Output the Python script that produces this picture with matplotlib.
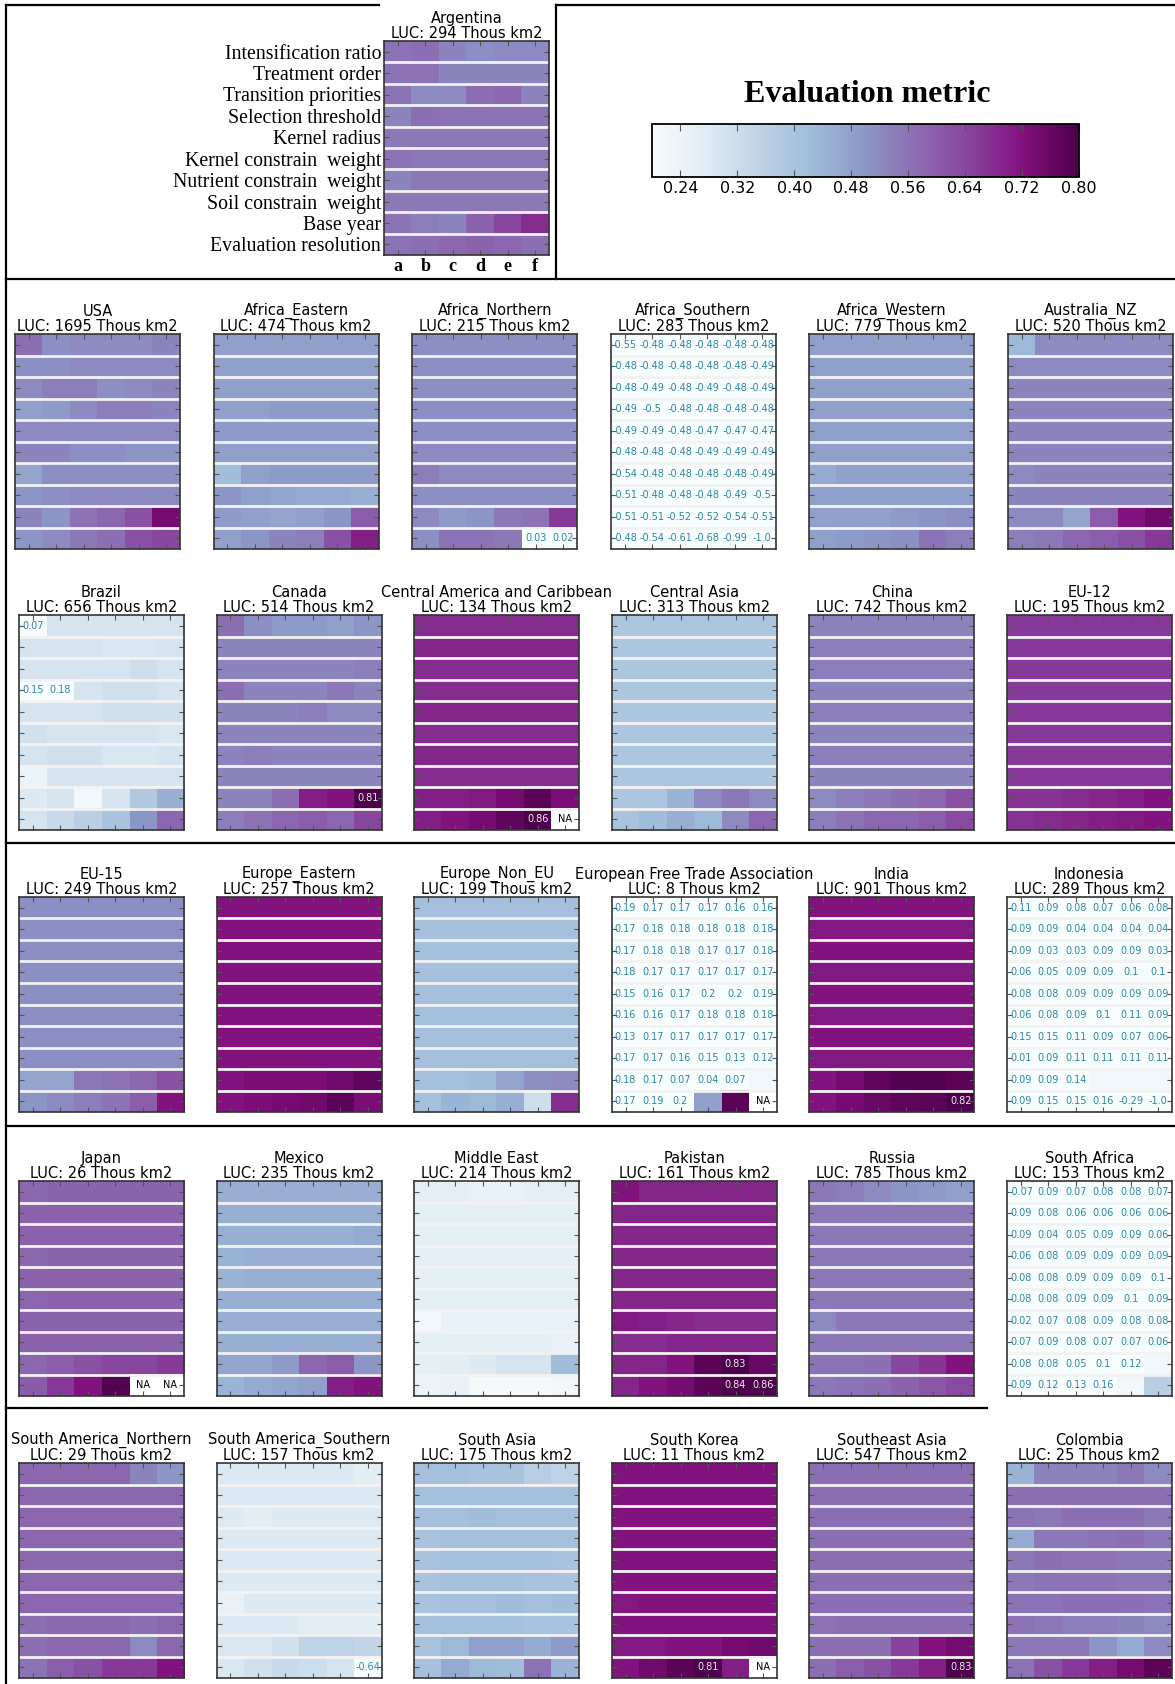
import numpy as np
import matplotlib
matplotlib.use("Agg")
import matplotlib.pyplot as plt
from matplotlib.lines import Line2D

NA = np.nan

row_labels = ["Intensification ratio", "Treatment order", "Transition priorities",
              "Selection threshold", "Kernel radius", "Kernel constrain  weight",
              "Nutrient constrain  weight", "Soil constrain  weight", "Base year",
              "Evaluation resolution"]
col_labels = ["a", "b", "c", "d", "e", "f"]
cbar_ticks = [0.24, 0.32, 0.40, 0.48, 0.56, 0.64, 0.72, 0.80]

# values, rows top to bottom, columns a..f
argentina = [[0.56, 0.57, 0.53, 0.51, 0.52, 0.52], [0.56, 0.56, 0.53, 0.53, 0.53, 0.53],
             [0.56, 0.52, 0.52, 0.57, 0.58, 0.53], [0.53, 0.57, 0.56, 0.56, 0.56, 0.56],
             [0.55, 0.55, 0.55, 0.55, 0.55, 0.55], [0.56, 0.55, 0.55, 0.55, 0.55, 0.55],
             [0.53, 0.55, 0.55, 0.55, 0.55, 0.55], [0.55, 0.55, 0.55, 0.55, 0.55, 0.55],
             [0.56, 0.54, 0.53, 0.59, 0.64, 0.68], [0.56, 0.57, 0.58, 0.59, 0.58, 0.57]]
usa = [[0.57, 0.51, 0.52, 0.52, 0.52, 0.53], [0.51, 0.51, 0.52, 0.52, 0.52, 0.52],
       [0.52, 0.54, 0.54, 0.51, 0.52, 0.53], [0.48, 0.49, 0.52, 0.54, 0.54, 0.53],
       [0.52, 0.52, 0.52, 0.52, 0.52, 0.52], [0.53, 0.53, 0.51, 0.51, 0.50, 0.50],
       [0.47, 0.51, 0.51, 0.51, 0.51, 0.51], [0.50, 0.51, 0.52, 0.52, 0.52, 0.52],
       [0.53, 0.50, 0.56, 0.58, 0.62, 0.74], [0.50, 0.52, 0.55, 0.57, 0.62, 0.64]]
africa_eastern = [[0.48, 0.48, 0.48, 0.48, 0.48, 0.48], [0.48, 0.48, 0.48, 0.48, 0.48, 0.48],
                  [0.48, 0.48, 0.48, 0.48, 0.48, 0.48], [0.48, 0.48, 0.49, 0.49, 0.49, 0.49],
                  [0.49, 0.49, 0.49, 0.49, 0.49, 0.49], [0.48, 0.48, 0.48, 0.48, 0.48, 0.48],
                  [0.42, 0.48, 0.49, 0.49, 0.49, 0.49], [0.50, 0.48, 0.47, 0.46, 0.46, 0.45],
                  [0.49, 0.48, 0.47, 0.48, 0.50, 0.60], [0.48, 0.50, 0.53, 0.54, 0.62, 0.70]]
africa_northern = [[0.51, 0.51, 0.51, 0.51, 0.51, 0.51], [0.51, 0.51, 0.51, 0.51, 0.51, 0.51],
                   [0.51, 0.51, 0.51, 0.51, 0.51, 0.51], [0.51, 0.51, 0.51, 0.51, 0.51, 0.51],
                   [0.51, 0.51, 0.51, 0.51, 0.51, 0.51], [0.52, 0.52, 0.52, 0.52, 0.52, 0.52],
                   [0.54, 0.52, 0.52, 0.52, 0.52, 0.52], [0.51, 0.51, 0.51, 0.51, 0.51, 0.51],
                   [0.52, 0.49, 0.50, 0.55, 0.56, 0.66], [0.51, 0.56, 0.56, 0.55, 0.03, 0.02]]
africa_southern = [[-0.55, -0.48, -0.48, -0.48, -0.48, -0.48], [-0.48, -0.48, -0.48, -0.48, -0.48, -0.49],
                   [-0.48, -0.49, -0.48, -0.49, -0.48, -0.49], [-0.49, -0.5, -0.48, -0.48, -0.48, -0.48],
                   [-0.49, -0.49, -0.48, -0.47, -0.47, -0.47], [-0.48, -0.48, -0.48, -0.49, -0.49, -0.49],
                   [-0.54, -0.48, -0.48, -0.48, -0.48, -0.49], [-0.51, -0.48, -0.48, -0.48, -0.49, -0.5],
                   [-0.51, -0.51, -0.52, -0.52, -0.54, -0.51], [-0.48, -0.54, -0.61, -0.68, -0.99, -1.0]]
africa_western = [[0.48, 0.48, 0.48, 0.48, 0.48, 0.48], [0.48, 0.48, 0.48, 0.48, 0.48, 0.48],
                  [0.48, 0.48, 0.48, 0.48, 0.48, 0.48], [0.48, 0.48, 0.48, 0.48, 0.48, 0.48],
                  [0.48, 0.48, 0.48, 0.48, 0.48, 0.48], [0.48, 0.48, 0.48, 0.48, 0.48, 0.48],
                  [0.46, 0.48, 0.48, 0.48, 0.48, 0.48], [0.48, 0.48, 0.48, 0.48, 0.48, 0.48],
                  [0.48, 0.48, 0.48, 0.49, 0.50, 0.51], [0.48, 0.49, 0.50, 0.51, 0.56, 0.54]]
australia_nz = [[0.43, 0.52, 0.52, 0.52, 0.52, 0.52], [0.52, 0.52, 0.52, 0.52, 0.52, 0.52],
                [0.53, 0.53, 0.53, 0.53, 0.53, 0.53], [0.53, 0.53, 0.53, 0.53, 0.53, 0.53],
                [0.53, 0.53, 0.53, 0.53, 0.53, 0.53], [0.53, 0.53, 0.53, 0.53, 0.53, 0.53],
                [0.52, 0.53, 0.53, 0.53, 0.53, 0.53], [0.53, 0.53, 0.53, 0.53, 0.53, 0.53],
                [0.52, 0.52, 0.47, 0.60, 0.72, 0.75], [0.54, 0.55, 0.58, 0.60, 0.62, 0.66]]
brazil = [[0.07, 0.30, 0.30, 0.30, 0.30, 0.30], [0.30, 0.30, 0.30, 0.29, 0.29, 0.30],
          [0.30, 0.30, 0.30, 0.30, 0.32, 0.30], [0.15, 0.18, 0.30, 0.31, 0.31, 0.30],
          [0.30, 0.30, 0.30, 0.31, 0.31, 0.31], [0.31, 0.30, 0.30, 0.30, 0.30, 0.29],
          [0.30, 0.31, 0.31, 0.29, 0.29, 0.30], [0.24, 0.30, 0.30, 0.30, 0.30, 0.30],
          [0.28, 0.30, 0.22, 0.30, 0.38, 0.45], [0.30, 0.33, 0.36, 0.40, 0.50, 0.58]]
canada = [[0.57, 0.51, 0.49, 0.49, 0.48, 0.50], [0.53, 0.53, 0.53, 0.53, 0.53, 0.53],
          [0.53, 0.53, 0.53, 0.53, 0.53, 0.54], [0.57, 0.53, 0.53, 0.53, 0.55, 0.53],
          [0.53, 0.53, 0.53, 0.54, 0.52, 0.52], [0.53, 0.53, 0.53, 0.53, 0.53, 0.53],
          [0.53, 0.54, 0.53, 0.53, 0.53, 0.53], [0.53, 0.53, 0.53, 0.53, 0.53, 0.53],
          [0.53, 0.53, 0.57, 0.70, 0.72, 0.81], [0.54, 0.56, 0.58, 0.60, 0.58, 0.64]]
central_america = [[0.68, 0.68, 0.68, 0.68, 0.68, 0.68], [0.69, 0.69, 0.69, 0.69, 0.69, 0.69],
                   [0.68, 0.68, 0.68, 0.68, 0.68, 0.68], [0.68, 0.68, 0.68, 0.68, 0.68, 0.68],
                   [0.69, 0.69, 0.69, 0.69, 0.69, 0.69], [0.68, 0.68, 0.68, 0.68, 0.68, 0.68],
                   [0.69, 0.69, 0.69, 0.69, 0.69, 0.69], [0.68, 0.68, 0.68, 0.68, 0.68, 0.68],
                   [0.70, 0.70, 0.71, 0.74, 0.78, 0.73], [0.70, 0.72, 0.74, 0.77, 0.86, NA]]
central_asia = [[0.39, 0.39, 0.39, 0.39, 0.39, 0.39], [0.39, 0.39, 0.39, 0.39, 0.39, 0.39],
                [0.39, 0.39, 0.39, 0.39, 0.39, 0.39], [0.39, 0.39, 0.39, 0.39, 0.39, 0.39],
                [0.39, 0.39, 0.39, 0.39, 0.39, 0.39], [0.39, 0.39, 0.39, 0.39, 0.39, 0.39],
                [0.39, 0.39, 0.39, 0.39, 0.39, 0.39], [0.39, 0.39, 0.39, 0.39, 0.39, 0.39],
                [0.39, 0.39, 0.44, 0.52, 0.55, 0.52], [0.40, 0.42, 0.45, 0.43, 0.52, 0.58]]
china = [[0.53, 0.53, 0.53, 0.53, 0.53, 0.53], [0.54, 0.54, 0.54, 0.54, 0.54, 0.54],
         [0.54, 0.54, 0.54, 0.54, 0.54, 0.54], [0.53, 0.53, 0.53, 0.53, 0.53, 0.53],
         [0.54, 0.54, 0.54, 0.54, 0.54, 0.54], [0.53, 0.53, 0.53, 0.53, 0.53, 0.53],
         [0.54, 0.54, 0.54, 0.54, 0.54, 0.54], [0.53, 0.53, 0.53, 0.53, 0.53, 0.53],
         [0.52, 0.54, 0.55, 0.57, 0.58, 0.62], [0.54, 0.56, 0.58, 0.58, 0.60, 0.63]]
eu12 = [[0.66, 0.66, 0.66, 0.66, 0.66, 0.66], [0.66, 0.66, 0.66, 0.66, 0.66, 0.66],
        [0.66, 0.66, 0.66, 0.66, 0.66, 0.66], [0.66, 0.66, 0.66, 0.66, 0.66, 0.66],
        [0.66, 0.66, 0.66, 0.66, 0.66, 0.66], [0.66, 0.66, 0.66, 0.66, 0.66, 0.66],
        [0.66, 0.66, 0.66, 0.66, 0.66, 0.66], [0.66, 0.66, 0.66, 0.66, 0.66, 0.66],
        [0.67, 0.67, 0.68, 0.69, 0.70, 0.72], [0.67, 0.68, 0.69, 0.70, 0.71, 0.72]]
eu15 = [[0.51, 0.51, 0.51, 0.51, 0.51, 0.51], [0.51, 0.51, 0.51, 0.51, 0.51, 0.51],
        [0.51, 0.51, 0.51, 0.51, 0.51, 0.51], [0.51, 0.51, 0.51, 0.51, 0.51, 0.51],
        [0.51, 0.51, 0.51, 0.51, 0.51, 0.51], [0.51, 0.51, 0.51, 0.51, 0.51, 0.51],
        [0.51, 0.51, 0.51, 0.51, 0.51, 0.51], [0.51, 0.51, 0.51, 0.51, 0.51, 0.51],
        [0.47, 0.47, 0.55, 0.56, 0.58, 0.62], [0.50, 0.52, 0.54, 0.56, 0.60, 0.72]]
europe_eastern = [[0.72, 0.72, 0.72, 0.72, 0.72, 0.72], [0.72, 0.72, 0.72, 0.72, 0.72, 0.72],
                  [0.72, 0.72, 0.72, 0.72, 0.72, 0.72], [0.72, 0.72, 0.72, 0.72, 0.72, 0.72],
                  [0.72, 0.72, 0.72, 0.72, 0.72, 0.72], [0.72, 0.72, 0.72, 0.72, 0.72, 0.72],
                  [0.72, 0.72, 0.72, 0.72, 0.72, 0.72], [0.72, 0.72, 0.72, 0.72, 0.72, 0.72],
                  [0.72, 0.73, 0.73, 0.73, 0.75, 0.77], [0.72, 0.73, 0.74, 0.75, 0.78, 0.73]]
europe_non_eu = [[0.41, 0.41, 0.41, 0.41, 0.41, 0.41], [0.41, 0.41, 0.41, 0.41, 0.41, 0.41],
                 [0.41, 0.41, 0.41, 0.41, 0.41, 0.41], [0.41, 0.41, 0.41, 0.41, 0.41, 0.41],
                 [0.41, 0.41, 0.41, 0.41, 0.41, 0.41], [0.41, 0.41, 0.41, 0.41, 0.41, 0.41],
                 [0.41, 0.41, 0.41, 0.41, 0.41, 0.41], [0.41, 0.41, 0.41, 0.41, 0.41, 0.41],
                 [0.41, 0.41, 0.42, 0.47, 0.51, 0.52], [0.41, 0.44, 0.43, 0.45, 0.32, 0.68]]
efta = [[0.19, 0.17, 0.17, 0.17, 0.16, 0.16], [0.17, 0.18, 0.18, 0.18, 0.18, 0.18],
        [0.17, 0.18, 0.18, 0.17, 0.17, 0.18], [0.18, 0.17, 0.17, 0.17, 0.17, 0.17],
        [0.15, 0.16, 0.17, 0.199, 0.199, 0.19], [0.16, 0.16, 0.17, 0.18, 0.18, 0.18],
        [0.13, 0.17, 0.17, 0.17, 0.17, 0.17], [0.17, 0.17, 0.16, 0.15, 0.13, 0.12],
        [0.18, 0.17, 0.07, 0.04, 0.07, 0.22], [0.17, 0.19, 0.199, 0.48, 0.78, NA]]
india = [[0.72, 0.72, 0.72, 0.72, 0.72, 0.72], [0.71, 0.71, 0.71, 0.71, 0.71, 0.71],
         [0.72, 0.72, 0.72, 0.72, 0.72, 0.72], [0.71, 0.71, 0.71, 0.71, 0.71, 0.71],
         [0.72, 0.72, 0.72, 0.72, 0.72, 0.72], [0.71, 0.71, 0.71, 0.71, 0.71, 0.71],
         [0.72, 0.72, 0.72, 0.72, 0.72, 0.72], [0.71, 0.71, 0.71, 0.71, 0.71, 0.71],
         [0.72, 0.74, 0.77, 0.79, 0.79, 0.78], [0.72, 0.74, 0.76, 0.77, 0.78, 0.82]]
indonesia = [[0.11, 0.09, 0.08, 0.07, 0.06, 0.08], [0.09, 0.09, 0.04, 0.04, 0.04, 0.04],
             [0.09, 0.03, 0.03, 0.09, 0.09, 0.03], [0.06, 0.05, 0.09, 0.09, 0.1, 0.1],
             [0.08, 0.08, 0.09, 0.09, 0.09, 0.09], [0.06, 0.08, 0.09, 0.1, 0.11, 0.09],
             [0.15, 0.15, 0.11, 0.09, 0.07, 0.06], [0.01, 0.09, 0.11, 0.11, 0.11, 0.11],
             [0.09, 0.09, 0.14, 0.22, 0.22, 0.22], [0.09, 0.15, 0.15, 0.16, -0.29, -1.0]]
japan = [[0.58, 0.59, 0.59, 0.59, 0.59, 0.59], [0.59, 0.59, 0.59, 0.59, 0.59, 0.59],
         [0.59, 0.59, 0.59, 0.59, 0.59, 0.59], [0.58, 0.59, 0.59, 0.59, 0.59, 0.59],
         [0.59, 0.59, 0.59, 0.59, 0.59, 0.59], [0.58, 0.59, 0.59, 0.59, 0.59, 0.59],
         [0.59, 0.59, 0.59, 0.59, 0.59, 0.59], [0.59, 0.59, 0.59, 0.59, 0.59, 0.59],
         [0.58, 0.60, 0.62, 0.64, 0.64, 0.66], [0.60, 0.66, 0.72, 0.79, NA, NA]]
mexico = [[0.45, 0.45, 0.45, 0.45, 0.45, 0.45], [0.45, 0.45, 0.45, 0.45, 0.45, 0.45],
          [0.45, 0.45, 0.45, 0.45, 0.45, 0.46], [0.44, 0.45, 0.45, 0.45, 0.45, 0.45],
          [0.44, 0.45, 0.45, 0.45, 0.45, 0.45], [0.45, 0.45, 0.45, 0.45, 0.45, 0.45],
          [0.45, 0.45, 0.45, 0.45, 0.45, 0.45], [0.45, 0.45, 0.45, 0.45, 0.45, 0.45],
          [0.47, 0.47, 0.49, 0.58, 0.60, 0.50], [0.44, 0.46, 0.47, 0.48, 0.70, 0.72]]
middle_east = [[0.26, 0.26, 0.25, 0.25, 0.26, 0.26], [0.26, 0.26, 0.26, 0.26, 0.26, 0.26],
               [0.26, 0.26, 0.26, 0.26, 0.26, 0.26], [0.26, 0.26, 0.26, 0.26, 0.26, 0.26],
               [0.26, 0.26, 0.26, 0.26, 0.26, 0.26], [0.26, 0.26, 0.26, 0.26, 0.26, 0.26],
               [0.22, 0.25, 0.25, 0.25, 0.25, 0.25], [0.26, 0.26, 0.26, 0.26, 0.26, 0.25],
               [0.26, 0.27, 0.28, 0.30, 0.30, 0.42], [0.24, 0.25, 0.21, 0.21, 0.21, 0.22]]
pakistan = [[0.72, 0.69, 0.69, 0.69, 0.69, 0.69], [0.69, 0.69, 0.69, 0.69, 0.69, 0.69],
            [0.69, 0.69, 0.69, 0.69, 0.69, 0.69], [0.69, 0.69, 0.69, 0.69, 0.69, 0.69],
            [0.69, 0.69, 0.69, 0.69, 0.69, 0.69], [0.69, 0.69, 0.69, 0.69, 0.69, 0.69],
            [0.71, 0.70, 0.69, 0.68, 0.68, 0.68], [0.68, 0.68, 0.69, 0.69, 0.69, 0.69],
            [0.69, 0.69, 0.72, 0.78, 0.83, 0.76], [0.69, 0.72, 0.74, 0.78, 0.84, 0.86]]
russia = [[0.55, 0.54, 0.52, 0.50, 0.49, 0.48], [0.55, 0.55, 0.55, 0.55, 0.55, 0.55],
          [0.55, 0.55, 0.55, 0.55, 0.55, 0.55], [0.55, 0.55, 0.55, 0.55, 0.55, 0.55],
          [0.55, 0.55, 0.55, 0.55, 0.55, 0.55], [0.55, 0.55, 0.55, 0.55, 0.55, 0.55],
          [0.52, 0.55, 0.55, 0.55, 0.55, 0.55], [0.55, 0.55, 0.55, 0.55, 0.55, 0.55],
          [0.56, 0.56, 0.57, 0.64, 0.67, 0.72], [0.55, 0.56, 0.57, 0.59, 0.61, 0.63]]
south_africa = [[-0.07, 0.09, 0.07, 0.08, 0.08, 0.07], [0.09, 0.08, 0.06, 0.06, 0.06, 0.06],
                [0.09, 0.04, 0.05, 0.09, 0.09, 0.06], [0.06, 0.08, 0.09, 0.09, 0.09, 0.09],
                [0.08, 0.08, 0.09, 0.09, 0.09, 0.1], [0.08, 0.08, 0.09, 0.09, 0.1, 0.09],
                [0.02, 0.07, 0.08, 0.09, 0.08, 0.08], [0.07, 0.09, 0.08, 0.07, 0.07, 0.06],
                [0.08, 0.08, 0.05, 0.1, 0.12, 0.22], [0.09, 0.12, 0.13, 0.16, 0.22, 0.36]]
sa_northern = [[0.58, 0.58, 0.58, 0.58, 0.53, 0.50], [0.58, 0.58, 0.58, 0.58, 0.58, 0.58],
               [0.58, 0.58, 0.58, 0.58, 0.58, 0.58], [0.58, 0.58, 0.58, 0.58, 0.58, 0.58],
               [0.58, 0.58, 0.58, 0.58, 0.58, 0.58], [0.58, 0.58, 0.58, 0.58, 0.58, 0.58],
               [0.58, 0.58, 0.58, 0.58, 0.58, 0.58], [0.57, 0.58, 0.58, 0.58, 0.57, 0.58],
               [0.57, 0.58, 0.58, 0.58, 0.52, 0.58], [0.56, 0.60, 0.62, 0.66, 0.66, 0.72]]
sa_southern = [[0.28, 0.28, 0.28, 0.28, 0.28, 0.27], [0.28, 0.28, 0.28, 0.28, 0.28, 0.28],
               [0.28, 0.27, 0.28, 0.28, 0.28, 0.28], [0.28, 0.28, 0.28, 0.28, 0.28, 0.28],
               [0.28, 0.28, 0.28, 0.28, 0.28, 0.28], [0.28, 0.28, 0.28, 0.28, 0.28, 0.28],
               [0.25, 0.28, 0.28, 0.28, 0.28, 0.28], [0.28, 0.28, 0.28, 0.27, 0.27, 0.27],
               [0.29, 0.29, 0.31, 0.35, 0.35, 0.34], [0.29, 0.31, 0.33, 0.32, 0.30, -0.64]]
south_asia = [[0.41, 0.41, 0.40, 0.40, 0.37, 0.35], [0.41, 0.41, 0.41, 0.41, 0.41, 0.41],
              [0.41, 0.41, 0.42, 0.41, 0.41, 0.41], [0.40, 0.41, 0.41, 0.41, 0.41, 0.41],
              [0.40, 0.41, 0.41, 0.41, 0.41, 0.40], [0.40, 0.41, 0.41, 0.41, 0.40, 0.40],
              [0.40, 0.41, 0.41, 0.42, 0.41, 0.42], [0.41, 0.41, 0.41, 0.41, 0.40, 0.40],
              [0.40, 0.43, 0.48, 0.48, 0.46, 0.49], [0.41, 0.46, 0.43, 0.42, 0.56, 0.44]]
south_korea = [[0.72, 0.72, 0.72, 0.72, 0.72, 0.72], [0.72, 0.72, 0.72, 0.72, 0.72, 0.72],
               [0.72, 0.72, 0.72, 0.72, 0.72, 0.72], [0.72, 0.72, 0.72, 0.72, 0.72, 0.72],
               [0.72, 0.72, 0.72, 0.72, 0.72, 0.72], [0.72, 0.72, 0.72, 0.72, 0.72, 0.72],
               [0.71, 0.72, 0.72, 0.72, 0.72, 0.72], [0.72, 0.72, 0.72, 0.72, 0.72, 0.72],
               [0.71, 0.71, 0.72, 0.72, 0.74, 0.75], [0.72, 0.75, 0.78, 0.81, 0.70, NA]]
southeast_asia = [[0.57, 0.57, 0.57, 0.57, 0.57, 0.57], [0.57, 0.57, 0.57, 0.57, 0.57, 0.57],
                  [0.57, 0.57, 0.57, 0.57, 0.57, 0.57], [0.57, 0.57, 0.57, 0.57, 0.57, 0.57],
                  [0.57, 0.57, 0.57, 0.57, 0.57, 0.57], [0.57, 0.57, 0.57, 0.57, 0.57, 0.57],
                  [0.57, 0.57, 0.57, 0.57, 0.57, 0.57], [0.56, 0.57, 0.57, 0.57, 0.57, 0.57],
                  [0.57, 0.57, 0.57, 0.65, 0.72, 0.74], [0.57, 0.60, 0.62, 0.66, 0.70, 0.83]]
colombia = [[0.44, 0.53, 0.53, 0.53, 0.55, 0.52], [0.57, 0.57, 0.57, 0.57, 0.57, 0.57],
            [0.56, 0.55, 0.57, 0.57, 0.57, 0.55], [0.46, 0.55, 0.55, 0.56, 0.57, 0.55],
            [0.55, 0.57, 0.56, 0.56, 0.55, 0.55], [0.55, 0.56, 0.56, 0.56, 0.55, 0.55],
            [0.56, 0.56, 0.57, 0.57, 0.57, 0.56], [0.56, 0.55, 0.54, 0.54, 0.53, 0.52],
            [0.55, 0.55, 0.55, 0.50, 0.46, 0.52], [0.56, 0.62, 0.66, 0.70, 0.74, 0.78]]

region_names = ["USA", "Africa_Eastern", "Africa_Northern", "Africa_Southern", "Africa_Western", "Australia_NZ",
                "Brazil", "Canada", "Central America and Caribbean", "Central Asia", "China", "EU-12",
                "EU-15", "Europe_Eastern", "Europe_Non_EU", "European Free Trade Association", "India", "Indonesia",
                "Japan", "Mexico", "Middle East", "Pakistan", "Russia", "South Africa",
                "South America_Northern", "South America_Southern", "South Asia", "South Korea", "Southeast Asia", "Colombia"]
region_luc = [1695, 474, 215, 283, 779, 520,
              656, 514, 134, 313, 742, 195,
              249, 257, 199, 8, 901, 289,
              26, 235, 214, 161, 785, 153,
              29, 157, 175, 11, 547, 25]
region_data = [usa, africa_eastern, africa_northern, africa_southern, africa_western, australia_nz,
               brazil, canada, central_america, central_asia, china, eu12,
               eu15, europe_eastern, europe_non_eu, efta, india, indonesia,
               japan, mexico, middle_east, pakistan, russia, south_africa,
               sa_northern, sa_southern, south_asia, south_korea, southeast_asia, colombia]

W, H = 1175, 1684
VMIN, VMAX = 0.2, 0.8

cmap = plt.get_cmap("BuPu").copy()
cmap.set_under("#f7fcfd")
cmap.set_over("#4d004b")
cmap.set_bad("white")

fig = plt.figure(figsize=(W / 100, H / 100), dpi=100)


def box(left, top, w, h):
    return [left / W, 1 - (top + h) / H, w / W, h / H]


def heat(ax, vals, title):
    arr = np.array(vals, dtype=float)
    ax.imshow(arr, cmap=cmap, vmin=VMIN, vmax=VMAX, aspect="auto", interpolation="nearest")
    for k in range(arr.shape[0] - 1):
        ax.axhline(k + 0.5, color="#f2f2f2", lw=2)
    for i in range(arr.shape[0]):
        for j in range(arr.shape[1]):
            v = arr[i, j]
            if np.isnan(v):
                ax.text(j, i, "NA", ha="center", va="center", fontsize=7, color="black")
            elif v < VMIN:
                ax.text(j, i, str(round(v, 2)), ha="center", va="center", fontsize=7, color="#2d87a0")
            elif v > VMAX:
                ax.text(j, i, str(round(v, 2)), ha="center", va="center", fontsize=7, color="#eeeeee")
    ax.set_xticks(range(6))
    ax.set_yticks(range(10))
    ax.set_xticklabels([])
    ax.set_yticklabels([])
    ax.tick_params(direction="in", length=3.5, width=0.8, color="#555555",
                   top=True, right=True, bottom=True, left=True)
    for s in ax.spines.values():
        s.set_color("#333333")
        s.set_linewidth(1.2)
    ax.set_title(title, fontsize=10.5, pad=2, linespacing=1.0)


# Argentina panel with labels
ax0 = fig.add_axes(box(384, 41, 165, 214))
heat(ax0, argentina, "Argentina\nLUC: 294 Thous km2")
ax0.set_yticklabels(row_labels, family="Liberation Serif", fontsize=14.3)
ax0.set_xticklabels(col_labels, family="Liberation Serif", fontsize=13, fontweight="bold")
ax0.tick_params(axis="both", pad=2)

# regional panels
row_tops = [334, 615, 897, 1181, 1463]
for n, (name, luc, vals) in enumerate(zip(region_names, region_luc, region_data)):
    r, c = divmod(n, 6)
    left0 = 15 if r == 0 else 19
    step = 198.6 if r == 0 else 197.6
    ax = fig.add_axes(box(left0 + step * c, row_tops[r], 165, 215))
    heat(ax, vals, f"{name}\nLUC: {luc} Thous km2")

# colorbar
cax = fig.add_axes(box(652, 124, 427, 53))
sm = plt.cm.ScalarMappable(cmap=plt.get_cmap("BuPu"), norm=plt.Normalize(VMIN, VMAX))
cb = fig.colorbar(sm, cax=cax, orientation="horizontal", ticks=cbar_ticks)
cb.ax.set_xticklabels([f"{t:.2f}" for t in cbar_ticks], fontsize=11.5)
cb.ax.tick_params(direction="in", length=5, width=0.8, color="#555555", top=True, bottom=True, pad=3)
cb.outline.set_linewidth(1.3)
fig.text(867 / W, 1 - 94 / H, "Evaluation metric", family="Liberation Serif", fontsize=23,
         fontweight="bold", ha="center", va="center")


def hline(y, x0, x1):
    fig.add_artist(Line2D([x0 / W, x1 / W], [1 - y / H, 1 - y / H], color="black", lw=1.6,
                          transform=fig.transFigure))


def vline(x, y0, y1):
    fig.add_artist(Line2D([x / W, x / W], [1 - y0 / H, 1 - y1 / H], color="black", lw=1.6,
                          transform=fig.transFigure))


vline(6, 5, H)
vline(556, 5, 279)
hline(5, 6, 379)
hline(5, 556, W)
hline(279, 6, W)
hline(843, 6, W)
hline(1126, 6, W)
hline(1408, 6, 987)

fig.savefig("out.png", dpi=100)
